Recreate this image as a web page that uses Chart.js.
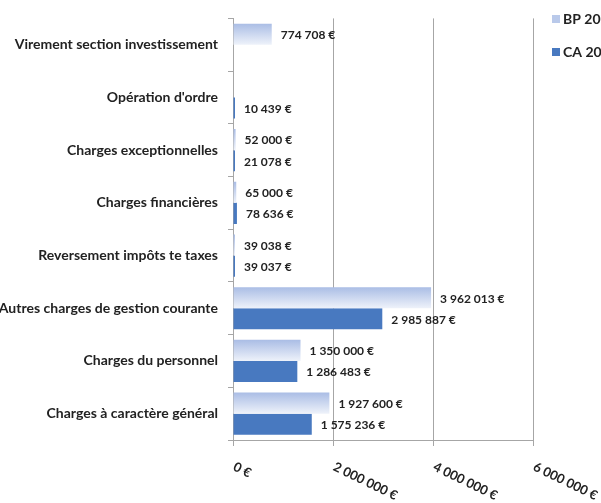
<!DOCTYPE html>
<html><head><meta charset="utf-8">
<script src="https://cdn.jsdelivr.net/npm/chart.js@4"></script>
<style>html,body{margin:0;padding:0;background:#fff}#wrap{width:601px;height:503px;position:relative}</style>
</head><body><div id="wrap"><canvas id="c" width="601" height="503"></canvas></div>
<script>
const categories = [
  "Virement section investissement",
  "Opération d'ordre",
  "Charges exceptionnelles",
  "Charges financières",
  "Reversement impôts te taxes",
  "Autres charges de gestion courante",
  "Charges du personnel",
  "Charges à caractère général"
];
const bpValues = [774708, null, 52000, 65000, 39038, 3962013, 1350000, 1927600];
const caValues = [null, 10439, 21078, 78636, 39037, 2985887, 1286483, 1575236];
const xTickValues = [0, 2000000, 4000000, 6000000];
const seriesNames = ["BP 2014", "CA 2013"];

const FONT = 'Lato, "Open Sans", sans-serif';
const CA_COLOR = '#4879c0';
const BP_LEGEND = '#b9c9ea';

function fmt(n){ return String(n).replace(/\B(?=(\d{3})+(?!\d))/g, ' ') + ' €'; }

function bpGradient(ctx){
  const chart = ctx.chart;
  const ys = chart.scales && chart.scales.y;
  if (!chart.chartArea || !ys || ctx.dataIndex === undefined) return BP_LEGEND;
  const center = ys.getPixelForValue(ctx.dataIndex);
  const thick = ys.height / categories.length * 0.8 / 2;
  const g = chart.ctx.createLinearGradient(0, center - thick, 0, center);
  g.addColorStop(0, '#aabde5');
  g.addColorStop(1, '#eef2fa');
  return g;
}

const extras = {
  id: 'extras',
  afterDatasetsDraw(chart){
    const c = chart.ctx;
    c.save();
    c.font = 'bold 12px ' + FONT;
    c.fillStyle = '#222';
    c.textBaseline = 'middle';
    c.textAlign = 'left';
    chart.data.datasets.forEach((ds, di) => {
      const meta = chart.getDatasetMeta(di);
      meta.data.forEach((el, i) => {
        const v = ds.data[i];
        if (v === null || v === undefined) return;
        c.fillText(fmt(v), el.x + 9, el.y + 1);
      });
    });
    c.restore();
  },
  afterDraw(chart){
    const c = chart.ctx;
    const xs = chart.scales.x;
    c.save();
    c.font = 'bold 13px ' + FONT;
    c.fillStyle = '#222';
    c.textBaseline = 'middle';
    c.textAlign = 'left';
    xTickValues.forEach(v => {
      const x = xs.getPixelForValue(v);
      c.save();
      c.translate(x + 1, 466);
      c.rotate(26 * Math.PI / 180);
      c.fillText(fmt(v), 0, 0);
      c.restore();
    });
    // legend
    const items = [[seriesNames[0], BP_LEGEND, 19], [seriesNames[1], CA_COLOR, 52]];
    c.font = 'bold 14px ' + FONT;
    items.forEach(([t, col, y]) => {
      c.fillStyle = col;
      c.fillRect(552, y - 4, 8, 8);
      c.fillStyle = '#222';
      c.fillText(t, 563, y);
    });
    c.restore();
  }
};

new Chart(document.getElementById('c'), {
  type: 'bar',
  data: {
    labels: categories,
    datasets: [
      { label: seriesNames[0], data: bpValues, backgroundColor: bpGradient, borderWidth: 0, minBarLength: 2, categoryPercentage: 0.8, barPercentage: 1.0 },
      { label: seriesNames[1], data: caValues, backgroundColor: CA_COLOR, borderWidth: 0, minBarLength: 2, categoryPercentage: 0.8, barPercentage: 1.0 }
    ]
  },
  options: {
    indexAxis: 'y',
    responsive: false,
    devicePixelRatio: 1,
    animation: false,
    layout: { padding: { top: 14, right: 68, left: 0, bottom: 0 } },
    plugins: { legend: { display: false }, tooltip: { enabled: false } },
    scales: {
      x: {
        min: 0, max: 6000000,
        ticks: { display: false, stepSize: 2000000 },
        grid: { color: '#a6a6a6', tickLength: 6, drawTicks: true },
        border: { color: '#a6a6a6' },
        afterFit(s){ s.height = 63; }
      },
      y: {
        ticks: { autoSkip: false, padding: 10, color: '#222', font: { family: FONT, size: 14, weight: 'bold' } },
        grid: { offset: true, drawOnChartArea: false, tickLength: 5, color: '#a6a6a6' },
        border: { color: '#a6a6a6' },
        afterFit(s){ s.width = 233; }
      }
    }
  },
  plugins: [extras]
});
</script>
</body></html>
